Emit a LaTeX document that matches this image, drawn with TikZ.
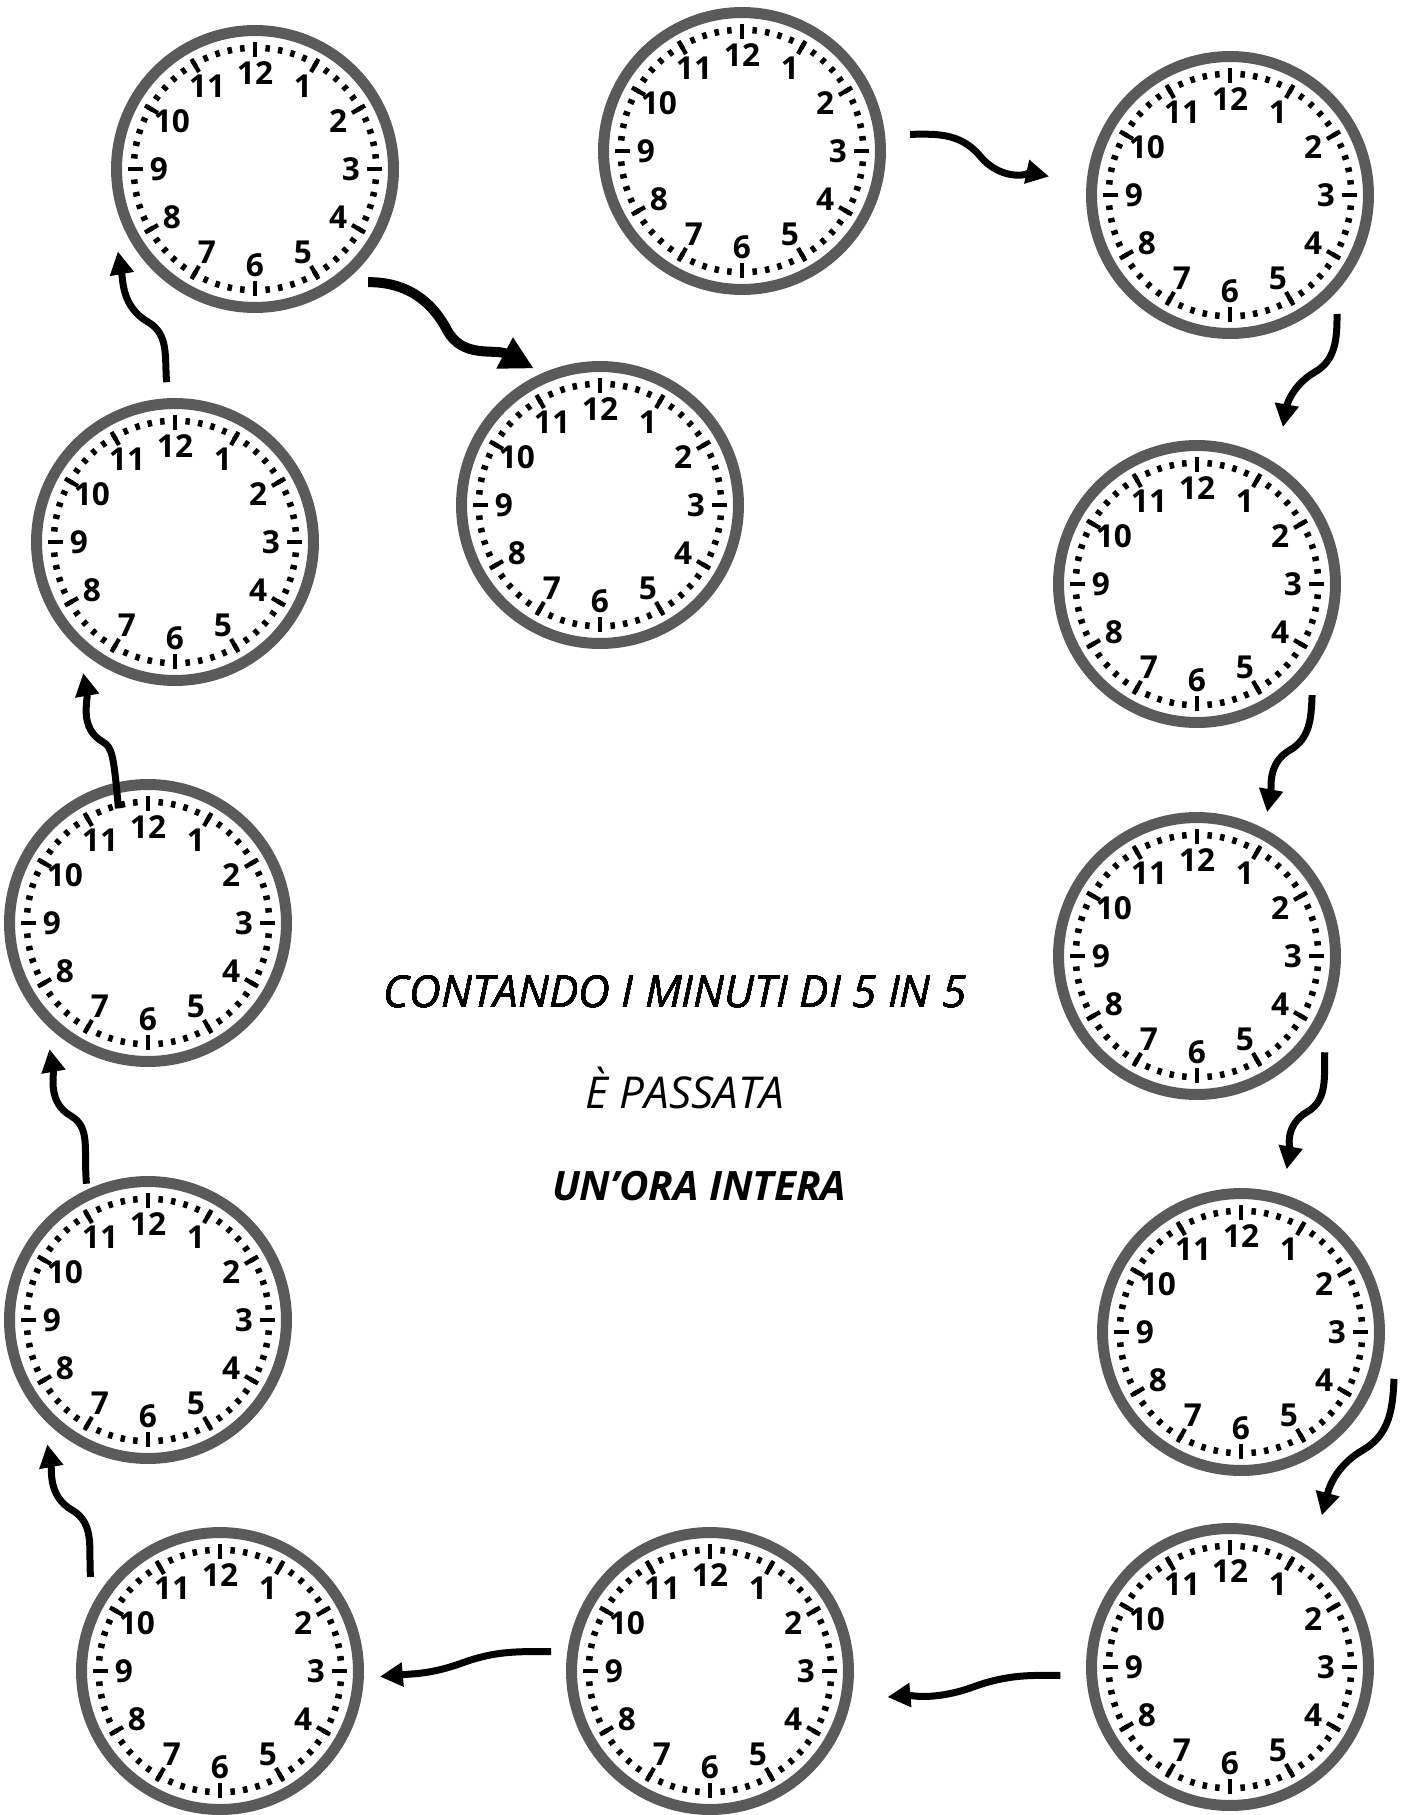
\documentclass[tikz,border=0pt]{standalone}
\usepackage{fontspec}
\setsansfont{Open Sans}
\usetikzlibrary{arrows.meta, positioning}
\definecolor{ringGray}{RGB}{90,90,90}

\newcommand{\clockface}[1]{%
  \begin{scope}[shift={(#1.center)}]
    \fill[white] (0,0) circle[radius=2.8cm];
    \draw[ring] (0,0) circle[radius=2.77cm];
    \foreach \m in {0,...,59}
      \draw[minutetick] (\m*6:118) -- (\m*6:124.5);
    \foreach \h in {1,...,12}{
      \draw[hourtick] ({90-30*\h}:112) -- ({90-30*\h}:127);
      \node[hournum] (#1-\h) at ({90-30*\h}:96) {\h};}
  \end{scope}}

\begin{document}
\begin{tikzpicture}[x=0.02cm, y=0.02cm,
clock/.style={circle, minimum size=6.4cm, inner sep=0pt, outer sep=0pt},
ring/.style={draw=ringGray, line width=0.22cm},
minutetick/.style={line width=0.09cm},
hourtick/.style={line width=0.085cm},
hournum/.style={inner sep=0pt, font=\sffamily\bfseries\fontsize{18}{18}\selectfont},
headline/.style={inner sep=0pt, font=\sffamily\itshape\fontsize{25}{27}\selectfont},
arrow/.style={-{Triangle[length=0.46cm, width=0.46cm]}, line width=0.14cm},
bigarrow/.style={-{Triangle[length=0.66cm, width=0.66cm]}, line width=0.2cm}]
\useasboundingbox (0,0) rectangle (1408,-1815);
\node[clock] (c0)  at (742,-151)  {};
\node[clock] (c1)  at (1230,-195) {};
\node[clock] (c2)  at (1197,-584) {};
\node[clock] (c3)  at (1197,-956) {};
\node[clock] (c4)  at (1241,-1332) {};
\node[clock] (c5)  at (1230,-1667) {};
\node[clock] (c6)  at (710,-1671) {};
\node[clock] (c7)  at (220,-1671) {};
\node[clock] (c8)  at (148,-1320) {};
\node[clock] (c9)  at (148,-923)  {};
\node[clock] (c10) at (175,-542)  {};
\node[clock] (c11) at (255,-169)  {};
\node[clock] (c12) at (600,-505)  {};
\foreach \c in {c0,c1,c2,c3,c4,c5,c6,c7,c8,c9,c10,c11,c12}
  \clockface{\c}
\node[headline] (line1) at (675,-992) {CONTANDO I MINUTI DI 5 IN 5};
\node[headline] (line2) at (685,-1088) {È PASSATA};
\node[headline, font=\sffamily\itshape\bfseries\fontsize{23}{25}\selectfont] (line3) at (699,-1186) {UN’ORA INTERA};
\draw[arrow, shorten <=0.18cm, shorten >=0.44cm] (c0.6) to[out=0,in=130] (980,-156) to[out=-50,in=168] (c1.175);
\draw[arrow, shorten >=0.4cm] (c1.-48) to[out=-90,in=30] (1315,-372) to[out=210,in=80] (c2.59);
\draw[arrow] (c2.-44) to[out=-92,in=30] (1290,-750) to[out=210,in=80] (c3.64);
\draw[arrow, shorten >=0.18cm] (c3.-37) to[out=-92,in=30] (1307,-1112) to[out=210,in=80] (c4.74);
\draw[arrow, shorten >=0.36cm] (c4.-17) to[out=-92,in=30] (1363,-1450) to[out=210,in=75] (c5.57);
\draw[arrow, shorten <=0.2cm, shorten >=0.4cm] (c5.183) to[out=180,in=20] (973,-1687) to[out=200,in=5] (c6.-10);
\draw[arrow] (c6.173) to[out=180,in=20] (462,-1663) to[out=200,in=5] (c7.-2);
\draw[arrow] (c7.144) to[out=95,in=-30] (72,-1510) to[out=150,in=-80] (c8.231);
\draw[arrow, shorten <=-0.22cm] (c8.113) to[out=95,in=-30] (71,-1116) to[out=150,in=-80] (c9.232);
\draw[arrow, shorten <=-0.84cm] (c9.102) to[out=95,in=-30] (103,-742) to[out=150,in=-80] (c10.235);
\draw[arrow] (c10.93) to[out=95,in=-30] (148,-322) to[out=150,in=-80] (c11.211);
\draw[bigarrow, shorten >=-0.2cm] (c11.-45) to[out=0,in=118] (447,-330) to[out=-62,in=152] (c12.118);
\end{tikzpicture}
\end{document}
